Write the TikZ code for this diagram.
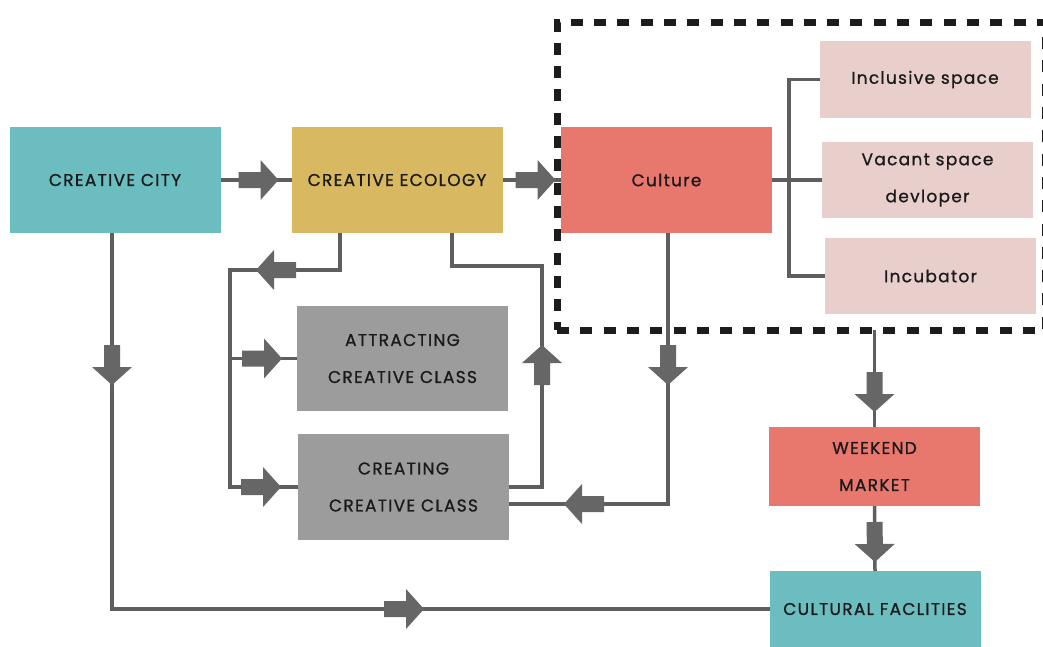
\documentclass[tikz,border=0pt]{standalone}
\usepackage{fontspec}
\setmainfont{Poppins}[LetterSpace=7.5, FakeBold=1]
\usetikzlibrary{decorations.markings}
\definecolor{teal1}{HTML}{6CBDC0}
\definecolor{gold1}{HTML}{D8B962}
\definecolor{salmon1}{HTML}{E8786E}
\definecolor{pink1}{HTML}{E8CFCC}
\definecolor{grayb}{HTML}{9C9C9C}
\definecolor{linec}{HTML}{5E5E5E}
\definecolor{arrowc}{HTML}{666666}
\definecolor{txt}{HTML}{1A1A1A}
\definecolor{dashc}{HTML}{1C1C1C}
\tikzset{
  box/.style={minimum width=211pt, minimum height=106pt, inner sep=0pt, outer sep=0pt,
    align=center, text=txt, font=\fontsize{17}{37}\selectfont},
  conn/.style={draw=linec, line width=3.5pt},
  fat/.style={postaction={decorate, decoration={markings, mark=at position #1 with {
    \fill[arrowc] (-20,-8) -- (2,-8) -- (2,-20) -- (20,0) -- (2,20) -- (2,8) -- (-20,8) -- cycle;}}}},
  grpbox/.style={draw=dashc, line width=7pt, dash pattern=on 12pt off 11.3pt, outer sep=0pt, inner sep=0pt}
}
\begin{document}
\begin{tikzpicture}[x=1pt, y=-1pt]
\useasboundingbox[fill=white] (0,0) rectangle (1043,646);
% group frame
\node[grpbox, minimum width=488pt, minimum height=308pt, anchor=north west] (grp) at (557,22) {};
% boxes
\node[box, fill=teal1] (city) at (115,180) {CREATIVE CITY};
\node[box, fill=gold1] (eco) at (397,180) {CREATIVE ECOLOGY};
\node[box, fill=salmon1] (cul) at (666.5,180) {Culture};
\node[box, fill=pink1, minimum height=77pt] (incl) at (925,79.5) {Inclusive space};
\node[box, fill=pink1, minimum height=76pt] (vac) at (927.5,180) {Vacant space\\devloper};
\node[box, fill=pink1, minimum height=76pt] (incu) at (930.5,276) {Incubator};
\node[box, fill=grayb, minimum height=105pt] (attr) at (402.5,358.5) {ATTRACTING\\CREATIVE CLASS};
\node[box, fill=grayb] (crea) at (403.5,487) {CREATING\\CREATIVE CLASS};
\node[box, fill=salmon1, minimum height=79pt] (week) at (874.5,466.5) {WEEKEND\\MARKET};
\node[box, fill=teal1, minimum height=76pt] (cult) at (875,609) {CULTURAL FACLITIES};
% helper coordinates
\coordinate (lj) at (230,270);
\coordinate (rj) at (542,266);
\coordinate (bx) at (789,180);
% connectors
\draw[conn, fat=38pt] (city.east) -- (city.east -| eco.west);
\draw[conn, fat=33pt] (eco.east) -- (eco.east -| cul.west);
\draw[conn, fat=132pt, fat=668pt] ([xshift=-3pt]city.south) |- (cult.west);
\draw[conn, fat=101pt, fat=395pt] ([xshift=-57pt]eco.south) |- (lj) |- (crea.west);
\draw[conn, fat=32pt] (lj |- attr.west) -- (attr.west);
\draw[conn, fat=155pt] (crea.east) -| (rj) -| ([xshift=55pt]eco.south);
\draw[conn, fat=132pt, fat=355pt] ([xshift=1.5pt]cul.south) |- ([yshift=-17pt]crea.east);
\draw[conn] (cul.east) -- (vac.west);
\draw[conn] (incl.west) -| (bx) |- (incu.west);
\draw[conn, fat=62pt] (grp.south -| week.north) -- (week.north);
\draw[conn, fat=36pt] (week.south) -- (cult.north);
\end{tikzpicture}
\end{document}
